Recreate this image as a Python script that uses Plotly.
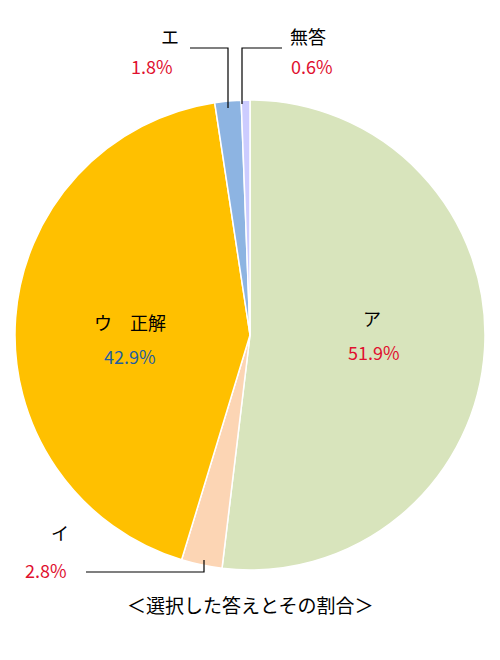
import plotly.graph_objects as go

labels = ["ア", "イ", "ウ　正解", "エ", "無答"]
values = [51.9, 2.8, 42.9, 1.8, 0.6]
colors = ["#D8E4BC", "#FCD5B4", "#FFC000", "#8DB4E2", "#CCCCFF"]
title_text = "＜選択した答えとその割合＞"

W, H = 500, 660
font = "Noto Sans CJK JP"
OFF = 8  # page offset seen in the rendered picture

def px(x, y):
    return (x - OFF) / W, 1 - (y - OFF) / H

d0 = px(15, 570)
d1 = px(485, 100)
fig = go.Figure(go.Pie(
    labels=labels, values=values, sort=False, direction="clockwise", rotation=0,
    marker=dict(colors=colors, line=dict(color="white", width=1.5)),
    textinfo="none", showlegend=False, hoverinfo="label+percent",
    domain=dict(x=[d0[0], d1[0]], y=[d0[1], d1[1]]),
))

# label positions (pixels): name position, percent position, colour
pos = [
    ((372, 318), (374, 352), "#E0102F"),
    ((60, 532), (46, 570), "#E0102F"),
    ((130, 322), (130, 356), "#1F5FA0"),
    ((170, 36), (152, 66), "#E0102F"),
    ((308, 36), (312, 66), "#E0102F"),
]
ann = []
for lab, val, (p1, p2, c) in zip(labels, values, pos):
    x1, y1 = px(*p1)
    x2, y2 = px(*p2)
    ann.append(dict(x=x1, y=y1, xref="paper", yref="paper", text=lab, showarrow=False,
                    xanchor="center", yanchor="middle",
                    font=dict(size=18, color="black", family=font)))
    ann.append(dict(x=x2, y=y2, xref="paper", yref="paper", text=f"{val}%", showarrow=False,
                    xanchor="center", yanchor="middle",
                    font=dict(size=18, color=c, family=font)))
tx, ty = px(250, 604)
ann.append(dict(x=tx, y=ty, xref="paper", yref="paper", text=title_text, showarrow=False,
                xanchor="center", yanchor="middle",
                font=dict(size=19, color="black", family=font)))

def path(pts):
    s = ""
    for i, (x, y) in enumerate(pts):
        xx, yy = px(x, y)
        s += ("M" if i == 0 else "L") + f"{xx},{yy} "
    return s

lines = [
    [(190, 48), (228, 48), (228, 108)],
    [(282, 48), (242, 48), (242, 104)],
    [(86, 572), (204, 572), (204, 560)],
]
shapes = [dict(type="path", xref="paper", yref="paper", path=path(p),
               line=dict(color="black", width=1.2)) for p in lines]

fig.update_layout(width=W, height=H, margin=dict(l=0, r=0, t=0, b=0),
                  paper_bgcolor="white", annotations=ann, shapes=shapes)
fig.write_html("out.html")
